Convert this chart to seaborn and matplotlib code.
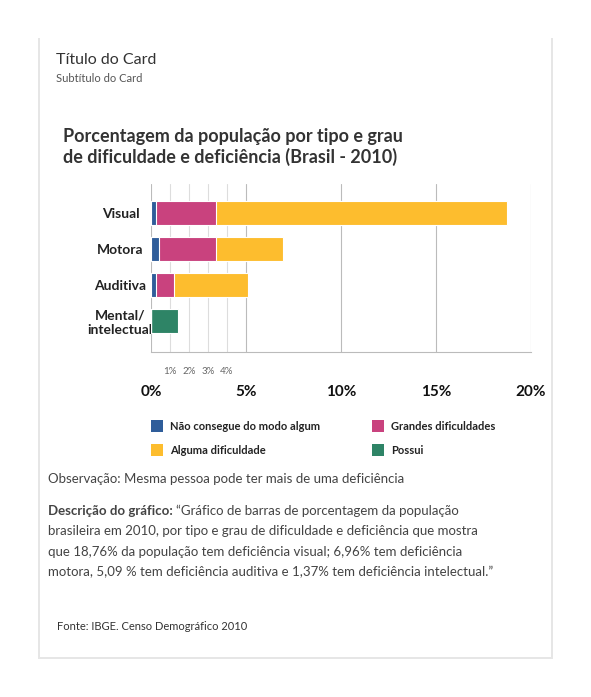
import matplotlib.pyplot as plt
import matplotlib.patches as mpatches
import seaborn as sns
import pandas as pd

categories = ["Visual", "Motora", "Auditiva", "Mental/\nintelectual"]
nao_consegue = [0.26, 0.44, 0.26, 0]
grandes = [3.16, 2.98, 0.95, 0]
alguma = [15.34, 3.54, 3.88, 0]
possui = [0, 0, 0, 1.40]
major_ticks = [0, 5, 10, 15, 20]
minor_ticks = [1, 2, 3, 4]

colors = {"nao": "#2f5d9a", "grandes": "#c9427e", "alguma": "#fdbd2e", "possui": "#2e8466"}

sns.set_style("white")
plt.rcParams["font.family"] = ["Lato", "DejaVu Sans"]

fig = plt.figure(figsize=(5.91, 6.97), dpi=100)
W, H = 591, 697

def fx(x):
    return x / W

def fy(y):
    return 1 - y / H

# card with shadow
fig.patches.append(mpatches.Rectangle((fx(38), fy(659)), fx(515), 621 / H, transform=fig.transFigure,
                                      facecolor="#e6e6e6", edgecolor="none", zorder=-3))
fig.patches.append(mpatches.Rectangle((fx(40), fy(657)), fx(511), 619 / H, transform=fig.transFigure,
                                      facecolor="white", edgecolor="none", zorder=-2))

fig.text(fx(56), fy(60), "Título do Card", fontsize=11.5, color="#333333", va="center")
fig.text(fx(56), fy(78), "Subtítulo do Card", fontsize=8, color="#555555", va="center")
fig.text(fx(63), fy(147), "Porcentagem da população por tipo e grau\nde dificuldade e deficiência (Brasil - 2010)",
         fontsize=13, fontweight="bold", color="#333333", va="center", linespacing=1.15)

ax = fig.add_axes([fx(151), fy(352), fx(380), 168 / H])
ax.set_facecolor("none")
df = pd.DataFrame({"cat": categories, "nao": nao_consegue, "grandes": grandes,
                   "alguma": alguma, "possui": possui})
left = [0] * len(df)
for key in ["nao", "grandes", "alguma", "possui"]:
    left = [l + v for l, v in zip(left, df[key])]
    sns.barplot(x=left, y=df["cat"], ax=ax, color=colors[key],
                orient="h", width=0.65, edgecolor="white", linewidth=0.8, saturation=1)
# barplot draws cumulative bars; shorter ones go on top
for i, cont in enumerate(ax.containers):
    for p in cont:
        p.set_zorder(10 - i)

ax.set_xlim(0, 20)
ax.set_ylim(3.86, -0.8)
for t in minor_ticks:
    ax.axvline(t, color="#dddddd", lw=0.8, zorder=0)
for t in major_ticks:
    ax.axvline(t, color="#bbbbbb", lw=0.8, zorder=0)
for s in ["top", "right", "left"]:
    ax.spines[s].set_visible(False)
ax.spines["bottom"].set_color("#bbbbbb")
ax.set_xticks(major_ticks)
ax.set_xticklabels([f"{t}%" for t in major_ticks], fontsize=11, fontweight="bold", color="#111111")
ax.tick_params(axis="x", length=16, color="#bbbbbb", pad=8)
ax.set_xticks(minor_ticks, minor=True)
ax.set_xticklabels([f"{t}%" for t in minor_ticks], minor=True, fontsize=7, color="#666666")
ax.tick_params(axis="x", which="minor", length=0, pad=11)
ax.set_yticks(range(4))
ax.set_yticklabels(categories, fontsize=10, fontweight="bold", color="#222222", linespacing=1.2)
ax.tick_params(axis="y", length=0, pad=22)
for lbl in ax.get_yticklabels():
    lbl.set_horizontalalignment("center")
ax.set_xlabel("")
ax.set_ylabel("")

legend = [("Não consegue do modo algum", colors["nao"], 151, 426),
          ("Grandes dificuldades", colors["grandes"], 372, 426),
          ("Alguma dificuldade", colors["alguma"], 151, 450),
          ("Possui", colors["possui"], 372, 450)]
for label, c, x, y in legend:
    fig.patches.append(mpatches.Rectangle((fx(x), fy(y + 6)), fx(12), 12 / H, transform=fig.transFigure,
                                          facecolor=c, edgecolor="none"))
    fig.text(fx(x + 19), fy(y), label, fontsize=8, fontweight="bold", color="#222222", va="center")

fig.text(fx(48), fy(479), "Observação: Mesma pessoa pode ter mais de uma deficiência",
         fontsize=9.5, color="#444444", va="center")
desc = ("“Gráfico de barras de porcentagem da população\n"
        "brasileira em 2010, por tipo e grau de dificuldade e deficiência que mostra\n"
        "que 18,76% da população tem deficiência visual; 6,96% tem deficiência\n"
        "motora, 5,09 % tem deficiência auditiva e 1,37% tem deficiência intelectual.”")
lines = desc.split("\n")
fig.text(fx(48), fy(511), "Descrição do gráfico:", fontsize=9.5, fontweight="bold", color="#444444", va="center")
fig.text(fx(176), fy(511), lines[0], fontsize=9.5, color="#444444", va="center")
for i, ln in enumerate(lines[1:]):
    fig.text(fx(48), fy(531 + i * 20.5), ln, fontsize=9.5, color="#444444", va="center")
fig.text(fx(57), fy(627), "Fonte: IBGE. Censo Demográfico 2010", fontsize=8, color="#333333", va="center")

fig.savefig("out.png", dpi=100)
